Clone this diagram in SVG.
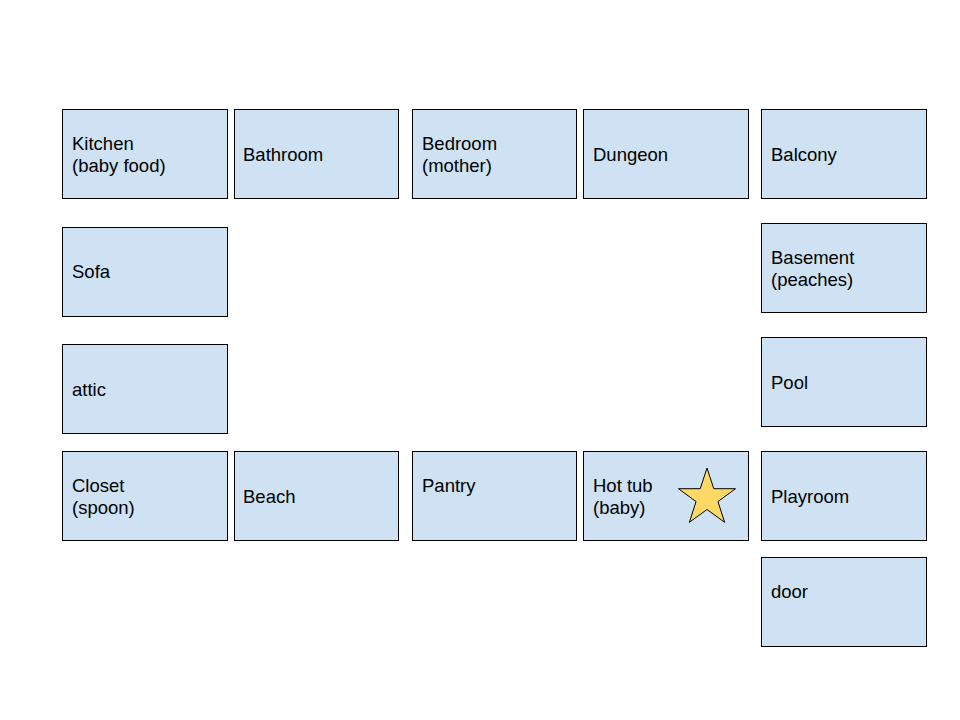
<svg xmlns="http://www.w3.org/2000/svg" width="960" height="720" viewBox="0 0 960 720">
<style>
.box{fill:#cfe2f3;stroke:#000;stroke-width:1}
.t{font-family:"Liberation Sans",Arial,sans-serif;font-size:18.5px;fill:#000}
.star{fill:#ffd966;stroke:#000;stroke-width:1}
</style>
<rect width="960" height="720" fill="#fff"/>
<g id="kitchen"><rect class="box" x="62.5" y="109.5" width="165" height="89"/><text class="t" x="72" y="150">Kitchen</text><text class="t" x="72" y="172">(baby food)</text></g>
<g id="bathroom"><rect class="box" x="234.5" y="109.5" width="164" height="89"/><text class="t" x="243" y="161">Bathroom</text></g>
<g id="bedroom"><rect class="box" x="412.5" y="109.5" width="164" height="89"/><text class="t" x="422" y="150">Bedroom</text><text class="t" x="422" y="172">(mother)</text></g>
<g id="dungeon"><rect class="box" x="583.5" y="109.5" width="165" height="89"/><text class="t" x="593" y="161">Dungeon</text></g>
<g id="balcony"><rect class="box" x="761.5" y="109.5" width="165" height="89"/><text class="t" x="771" y="161">Balcony</text></g>
<g id="sofa"><rect class="box" x="62.5" y="227.5" width="165" height="89"/><text class="t" x="72" y="278">Sofa</text></g>
<g id="attic"><rect class="box" x="62.5" y="344.5" width="165" height="89"/><text class="t" x="72" y="396">attic</text></g>
<g id="basement"><rect class="box" x="761.5" y="223.5" width="165" height="89"/><text class="t" x="771" y="264">Basement</text><text class="t" x="771" y="286">(peaches)</text></g>
<g id="pool"><rect class="box" x="761.5" y="337.5" width="165" height="89"/><text class="t" x="771" y="389">Pool</text></g>
<g id="closet"><rect class="box" x="62.5" y="451.5" width="165" height="89"/><text class="t" x="72" y="492">Closet</text><text class="t" x="72" y="514">(spoon)</text></g>
<g id="beach"><rect class="box" x="234.5" y="451.5" width="164" height="89"/><text class="t" x="243" y="503">Beach</text></g>
<g id="pantry"><rect class="box" x="412.5" y="451.5" width="164" height="89"/><text class="t" x="422" y="492">Pantry</text></g>
<g id="hottub"><rect class="box" x="583.5" y="451.5" width="165" height="89"/><text class="t" x="593" y="492">Hot tub</text><text class="t" x="593" y="514">(baby)</text><polygon class="star" points="707,468 713.76,488.7 735.53,488.73 717.94,501.55 724.63,522.27 707,509.5 689.37,522.27 696.06,501.55 678.47,488.73 700.24,488.7"/></g>
<g id="playroom"><rect class="box" x="761.5" y="451.5" width="165" height="89"/><text class="t" x="771" y="503">Playroom</text></g>
<g id="door"><rect class="box" x="761.5" y="557.5" width="165" height="89"/><text class="t" x="771" y="598">door</text></g>
<g id="connectors"></g>
</svg>
